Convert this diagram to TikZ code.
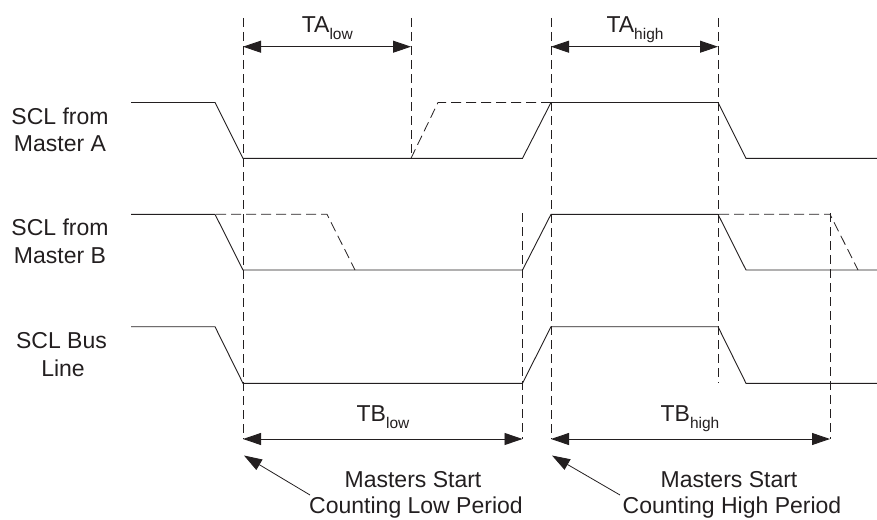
\documentclass[tikz,border=0pt]{standalone}
\usepackage{fontspec}
\setmainfont{Liberation Sans}
\usetikzlibrary{arrows.meta}
\definecolor{ink}{HTML}{231F20}
\newcommand\tdsub[1]{\raisebox{-7pt}{\fontsize{15.5}{16}\selectfont #1}}

\begin{document}
\begin{tikzpicture}[x=1pt,y=-1pt,
  sig/.style={draw=ink, line width=0.9pt, line join=miter},
  guide/.style={draw=ink, line width=0.8pt, dash pattern=on 9pt off 5pt},
  dsig/.style={draw=ink, line width=0.8pt, dash pattern=on 10pt off 5pt},
  dimline/.style={draw=ink, line width=0.9pt, {Triangle[length=18pt,width=12pt]}-{Triangle[length=18pt,width=12pt]}},
  pointer/.style={draw=ink, line width=0.8pt, -{Triangle[length=18pt,width=12pt]}},
  lbl/.style={font=\fontsize{23}{27}\selectfont, text=ink, inner sep=0pt, anchor=base},
]
\useasboundingbox (0,0) rectangle (877,519);

% guide lines
\coordinate (g1t) at (243,18);   \coordinate (g1b) at (243,439);
\coordinate (g2t) at (411,18);   \coordinate (g2b) at (411,158.3);
\coordinate (g3t) at (522.5,213);\coordinate (g3b) at (522.5,439);
\coordinate (g4t) at (551,18);   \coordinate (g4b) at (551,439);
\coordinate (g5t) at (718,18);   \coordinate (g5b) at (718,383.3);
\coordinate (g6t) at (830,213);  \coordinate (g6b) at (830,439);
\foreach \g in {1,...,6} {\draw[guide] (g\g t) -- (g\g b);}

% signal levels
\def\ahi{102.5}\def\alo{158.3}
\def\bhi{214.3}\def\blo{270}
\def\chi{326.7}\def\clo{383.3}

% SCL from Master A
\draw[sig] (131,\ahi) -- (215,\ahi) -- (243,\alo) -- (522.5,\alo) -- (551,\ahi)
  -- (718,\ahi) -- (746,\alo) -- (877,\alo);
\draw[dsig] (411,\alo) -- (438,\ahi) -- (551,\ahi);

% SCL from Master B
\draw[sig] (131,\bhi) -- (215,\bhi) -- (243,\blo) -- (522.5,\blo) -- (551,\bhi)
  -- (718,\bhi) -- (746,\blo) -- (877,\blo);
\draw[dsig] (216,\bhi) -- (327,\bhi) -- (355,\blo);
\draw[dsig] (719,\bhi) -- (830,\bhi) -- (858,\blo);

% SCL Bus Line
\draw[sig] (131,\chi) -- (215,\chi) -- (243,\clo) -- (522.5,\clo) -- (551,\chi)
  -- (718,\chi) -- (746,\clo) -- (877,\clo);

% left labels
\node[lbl] (la1) at (60,124) {SCL from};
\node[lbl] (la2) at (60,151.7) {Master A};
\node[lbl] (lb1) at (60,235.7) {SCL from};
\node[lbl] (lb2) at (60,263.3) {Master B};
\node[lbl] (lc1) at (61.5,348.3) {SCL Bus};
\node[lbl] (lc2) at (63,376) {Line};

% dimension arrows
\coordinate (tal) at (243,46.7);  \coordinate (tar) at (411,46.7);
\coordinate (tahl) at (551,46.7); \coordinate (tahr) at (718,46.7);
\coordinate (tbl) at (243,439);   \coordinate (tbr) at (522.5,439);
\coordinate (tbhl) at (551,439);  \coordinate (tbhr) at (830,439);
\draw[dimline] (tal) -- (tar);
\draw[dimline] (tahl) -- (tahr);
\draw[dimline] (tbl) -- (tbr);
\draw[dimline] (tbhl) -- (tbhr);

\node[lbl] (talow) at (327.3,32.3) {TA\tdsub{low}};
\node[lbl] (tahigh) at (635,32.3) {TA\tdsub{high}};
\node[lbl] (tblow) at (383,421.7) {TB\tdsub{low}};
\node[lbl] (tbhigh) at (690,421.7) {TB\tdsub{high}};

% bottom notes
\node[lbl] (n1a) at (413,487) {Masters Start};
\node[lbl] (n1b) at (416,513) {Counting Low Period};
\node[lbl] (n2a) at (729,487) {Masters Start};
\node[lbl] (n2b) at (732,513) {Counting High Period};

\coordinate (p1s) at (310,495); \coordinate (p1e) at (244,455.5);
\coordinate (p2s) at (620,495); \coordinate (p2e) at (552,455.5);
\draw[pointer] (p1s) -- (p1e);
\draw[pointer] (p2s) -- (p2e);
\end{tikzpicture}
\end{document}
